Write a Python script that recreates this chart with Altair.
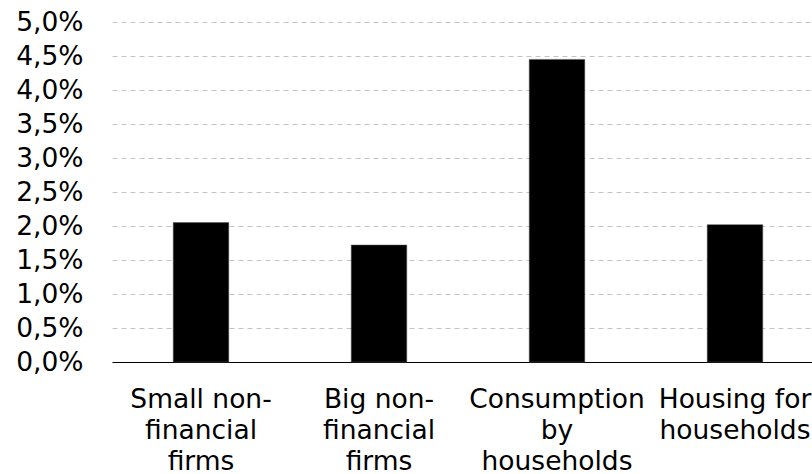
import altair as alt
import pandas as pd

categories = [
    "Small non-\nfinancial\nfirms",
    "Big non-\nfinancial\nfirms",
    "Consumption\nby\nhouseholds",
    "Housing for\nhouseholds",
]
values = [2.05, 1.72, 4.45, 2.02]
y_ticks = [0, 0.5, 1, 1.5, 2, 2.5, 3, 3.5, 4, 4.5, 5]

df = pd.DataFrame({"cat": categories, "val": values})

FONT = "DejaVu Sans"

chart = (
    alt.Chart(df)
    .mark_bar(color="black", stroke="#555555", strokeWidth=0.5)
    .encode(
        x=alt.X(
            "cat:N",
            sort=None,
            title=None,
            scale=alt.Scale(range=[0, 712], paddingInner=0.688, paddingOuter=0.344),
            axis=alt.Axis(
                labelExpr="split(datum.label, '\\n')",
                labelAngle=0,
                labelFont=FONT,
                labelFontSize=26.5,
                labelColor="black",
                labelLineHeight=31,
                labelPadding=24,
                labelBaseline="top",
                ticks=False,
                domainColor="black",
                domainWidth=1.2,
                grid=False,
            ),
        ),
        y=alt.Y(
            "val:Q",
            title=None,
            scale=alt.Scale(domain=[0, 5], nice=False),
            axis=alt.Axis(
                values=y_ticks,
                labelExpr="replace(format(datum.value, '.1f'), '.', ',') + '%'",
                labelFont=FONT,
                labelFontSize=26.5,
                labelColor="black",
                labelPadding=29,
                ticks=False,
                domain=False,
                grid=True,
                gridColor="#c4c4c4",
                gridDash=[5, 4],
                gridWidth=1,
            ),
        ),
    )
    .properties(
        width=700,
        height=340,
        background="white",
        autosize=alt.AutoSizeParams(type="none"),
        padding={"left": 112, "top": 22, "right": 0, "bottom": 112},
    )
    .configure_view(strokeWidth=0, stroke="transparent")
)

chart.save("out.html", embed_options={"renderer": "svg", "actions": False})
